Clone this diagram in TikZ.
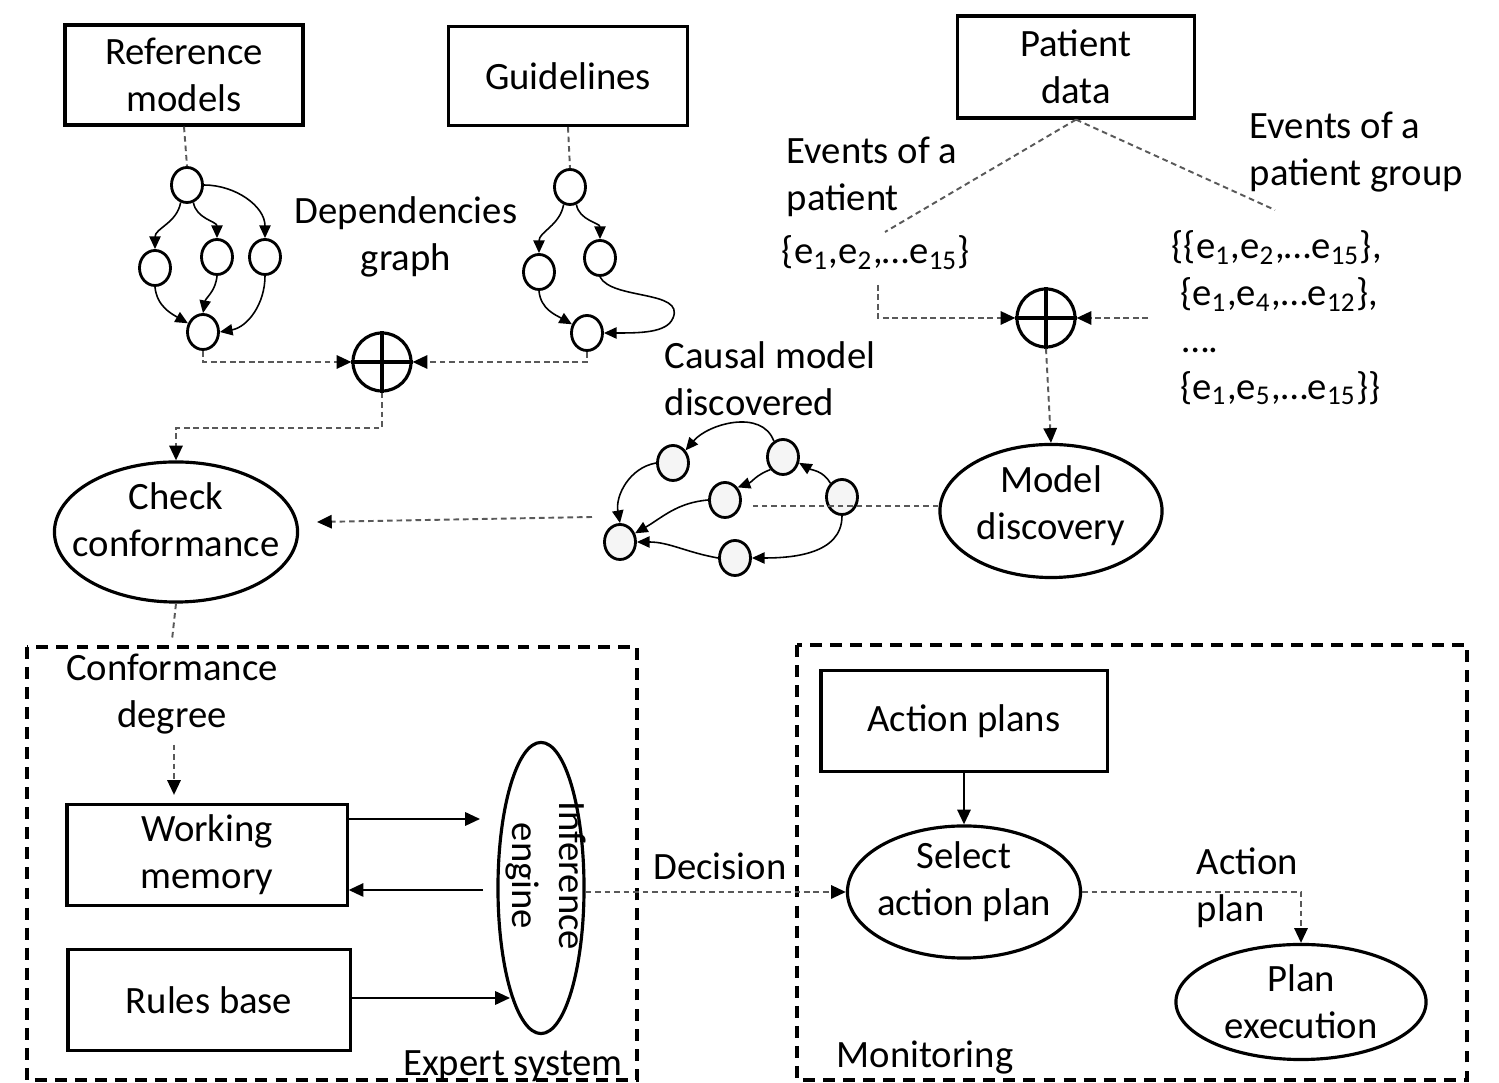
\documentclass[tikz,border=0pt]{standalone}
\usepackage{fontspec}
\setmainfont{Carlito}
\usetikzlibrary{arrows.meta,shapes.geometric}
\begin{document}
\begin{tikzpicture}[x=0.01cm,y=-0.01cm,
 font=\fontsize{11}{13.3}\selectfont,
 boxn/.style={draw,line width=0.9pt,align=center,inner sep=0pt},
 elln/.style={ellipse,draw,line width=0.9pt,inner sep=0pt},
 sn/.style={ellipse,draw,line width=0.8pt,minimum width=0.31cm,minimum height=0.35cm,inner sep=0pt},
 cn/.style={sn,fill=gray!8},
 tip/.style={-{Triangle[length=4.2pt,width=3.8pt]}},
 stip/.style={-{Triangle[length=3.6pt,width=3.2pt]}},
 edgeln/.style={line width=0.45pt,stip},
 sarr/.style={line width=0.55pt,tip},
 dl/.style={line width=0.55pt,dash pattern=on 1.6pt off 1.1pt,draw=black!65},
 darr/.style={dl,-{Triangle[length=4.2pt,width=3.8pt,color=black]}},
 bigdash/.style={line width=0.9pt,dash pattern=on 3.4pt off 2.3pt},
 txt/.style={align=center,inner sep=0pt},
 opl/.style={circle,draw,line width=0.9pt,minimum size=0.58cm,inner sep=0pt}
]
\useasboundingbox (0,0) rectangle (1499,1083);

% top boxes
\node[boxn,minimum width=2.38cm,minimum height=1.0cm] (rm) at (184,75) {Reference\\models};
\node[boxn,minimum width=2.39cm,minimum height=0.99cm] (gl) at (568,76) {Guidelines};
\node[boxn,minimum width=2.37cm,minimum height=1.02cm] (pd) at (1076,67) {Patient\\data};

% dependencies graph 1
\node[sn] (a1) at (187,185) {};
\node[sn] (a2) at (155,268) {};
\node[sn] (a3) at (217,257) {};
\node[sn] (a4) at (265,257) {};
\node[sn] (a5) at (203,332) {};
\draw[edgeln] (a1.250) to[out=-100,in=90] (a2.north);
\draw[edgeln] (a1.290) to[out=-80,in=90] (a3.north);
\draw[edgeln] (a1.east) to[out=0,in=90] (a4.north);
\draw[edgeln] (a2.south) to[out=-85,in=150] (a5.150);
\draw[edgeln] (a3.south) to[out=-95,in=80] (a5.north);
\draw[edgeln] (a4.south) to[out=-90,in=10] (a5.east);

% dependencies graph 2
\node[sn] (b1) at (570,187) {};
\node[sn] (b2) at (539,272) {};
\node[sn] (b3) at (600,258) {};
\node[sn] (b4) at (587,333) {};
\draw[edgeln] (b1.250) to[out=-100,in=90] (b2.north);
\draw[edgeln] (b1.290) to[out=-80,in=90] (b3.north);
\draw[edgeln] (b2.south) to[out=-85,in=150] (b4.150);
\draw[edgeln] (b3.south) .. controls (612,300) and (685,290) .. (673,318) .. controls (667,333) and (640,333) .. (b4.east);

\node[txt] (dg) at (406,237) {Dependencies\\graph};

% oplus 1
\node[opl] (op1) at (382,362) {};
\draw[line width=0.9pt] (op1.north) -- (op1.south) (op1.west) -- (op1.east);

\draw[dl] (rm.south) -- (a1.north);
\draw[dl] (gl.south) -- (b1.north);
\draw[darr] (a5.south) |- (op1.west);
\draw[darr] (b4.south) |- (op1.east);

% check conformance
\node[elln,minimum width=2.43cm,minimum height=1.40cm,
  label={[txt,yshift=0.125cm]center:Check\\conformance}] (ck) at (176,532) {};
\draw[darr] (op1.south) -- (op1.south |- 0,428) -| (ck.north);

% causal model
\node[cn] (c1) at (673,463) {};
\node[cn] (c2) at (783,457) {};
\node[cn] (c3) at (725,500) {};
\node[cn] (c4) at (842,497) {};
\node[cn] (c5) at (620,542) {};
\node[cn] (c6) at (735,558) {};
\draw[edgeln] (c2.120) to[out=110,in=50] (c1.45);
\draw[edgeln] (c1.west) to[out=190,in=100] (c5.north);
\draw[edgeln] (c2.225) to[out=200,in=20] (c3.45);
\draw[edgeln] (c4.130) to[out=120,in=-30] (c2.-20);
\draw[edgeln] (c3.west) to[out=185,in=30] (c5.30);
\draw[edgeln] (c4.south) to[out=-90,in=0] (c6.east);
\draw[edgeln] (c6.west) to[out=170,in=0] (c5.east);
\node[txt,align=left,anchor=west] (cmd) at (664,379) {Causal model\\discovered};

% model discovery
\node[elln,minimum width=2.22cm,minimum height=1.33cm,
  label={[txt,yshift=0.055cm]center:Model\\discovery}] (md) at (1051,511) {};
\coordinate (mdl) at (753,506);
\draw[dl] (md.west |- mdl) -- (mdl);
\coordinate (cmo) at (592,517);
\coordinate (ckt) at (317,522);
\draw[darr] (cmo) -- (ckt);

% patient data side
\coordinate (pl) at (885,232);
\coordinate (pr) at (1275,210);
\draw[dl] (pd.south) -- (pl);
\draw[dl] (pd.south) -- (pr);
\node[txt,align=left,anchor=west] (ep) at (786,177) {Events of a\\patient};
\node[txt] (es) at (876,253) {\{e\textsubscript{1},e\textsubscript{2},…e\textsubscript{15}\}};
\node[txt,align=left,anchor=west] (eg) at (1249,152) {Events of a\\patient group};
\node[txt,align=left,anchor=west] (gs) at (1171,318) {\{\{e\textsubscript{1},e\textsubscript{2},…e\textsubscript{15}\},\\
\hspace{2.4pt}\{e\textsubscript{1},e\textsubscript{4},…e\textsubscript{12}\},\\
\hspace{3pt}….\\
\hspace{2.4pt}\{e\textsubscript{1},e\textsubscript{5},…e\textsubscript{15}\}\}};

\node[opl] (op2) at (1046,318) {};
\draw[line width=0.9pt] (op2.north) -- (op2.south) (op2.west) -- (op2.east);
\coordinate (pev) at (878,285);
\coordinate (gev) at (1148,318);
\draw[darr] (pev) |- (op2.west);
\draw[darr] (gev) -- (op2.east);
\draw[darr] (op2.south) -- (md.north);

% expert system
\draw[bigdash] (27,647) rectangle (637,1080);
\coordinate (ckd) at (172,640);
\draw[dl] (ck.south) -- (ckd);
\node[txt] (cd) at (172,694) {Conformance\\degree};
\node[boxn,minimum width=2.80cm,minimum height=1.01cm] (wm) at (207,855) {Working\\memory};
\node[boxn,minimum width=2.82cm,minimum height=1.01cm] (rb) at (209,1000) {Rules base};
\draw[darr,shorten <=0.1cm,shorten >=0.08cm] (cd.south -| 174,0) -- (wm.north -| 174,0);
\node[elln,minimum width=0.86cm,minimum height=2.91cm,
  label={[txt,xshift=0.05cm,yshift=0.12cm,rotate=-90]center:Inference\\engine}] (ie) at (541,888) {};
\coordinate (ie1) at (480,819);
\coordinate (ie2) at (483,890);
\coordinate (ie3) at (510,998);
\draw[sarr] (wm.east |- ie1) -- (ie1);
\draw[sarr] (ie2) -- (wm.east |- ie2);
\draw[sarr] (rb.east |- ie3) -- (ie3);
\node[txt] (exs) at (513,1066) {Expert system};

% monitoring
\draw[bigdash] (797,645) rectangle (1467,1080);
\node[boxn,minimum width=2.86cm,minimum height=1.01cm] (ap) at (964,721) {Action plans};
\node[elln,minimum width=2.33cm,minimum height=1.32cm,
  label={[txt,yshift=0.105cm]center:Select\\action plan}] (sap) at (964,892) {};
\node[elln,minimum width=2.50cm,minimum height=1.15cm,
  label={[txt]center:Plan\\execution}] (pex) at (1301,1002) {};
\draw[sarr] (ap.south) -- (sap.north);
\draw[darr] (ie.east |- sap.west) -- (sap.west);
\node[txt] (dec) at (720,866) {Decision};
\draw[darr] (sap.east) -| (pex.north);
\node[txt,align=left,anchor=west] (apl) at (1196,888) {Action\\plan};
\node[txt] (mon) at (925,1058) {Monitoring};
\end{tikzpicture}
\end{document}
